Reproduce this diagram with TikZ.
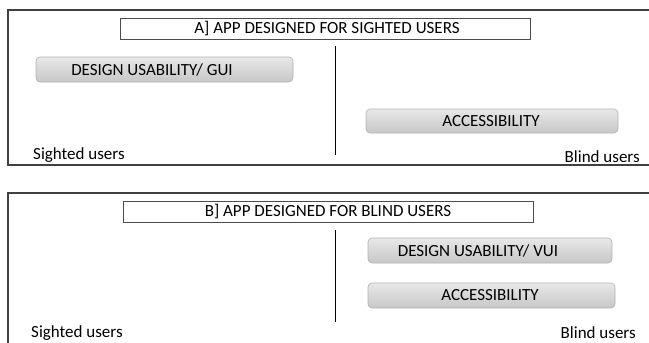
\documentclass[tikz,border=0pt]{standalone}
\usepackage{fontspec}
\setmainfont{Carlito}
\begin{document}
\begin{tikzpicture}[x=1pt,y=-1pt,
  frame/.style={draw=black!75,line width=1.1pt},
  titlebox/.style={draw=black!70,line width=0.8pt,fill=white},
  graybox/.style={draw=black!30,line width=0.6pt,rounded corners=4pt,
    top color=black!9,bottom color=black!22},
  lbl/.style={font=\fontsize{17}{19}\selectfont,text=black,inner sep=0pt},
  divider/.style={draw=black,line width=0.8pt}]
\useasboundingbox (0,0) rectangle (649,343);

% ---- Panel A ----
\draw[frame] (651,10) -- (8,10) -- (8,165) -- (651,165);
\draw[titlebox] (120,18) rectangle (530,39);
\node[lbl] (tA) at (327,29) {A] APP DESIGNED FOR SIGHTED USERS};
\draw[divider] (335,46) -- (335,155);
\draw[graybox] (36,57) rectangle (293,82);
\node[lbl] (guiA) at (152,69.5) {DESIGN USABILITY/ GUI};
\draw[graybox] (366,109) rectangle (618,133);
\node[lbl] (accA) at (491,121) {ACCESSIBILITY};
\node[lbl,anchor=west] (sA) at (33,155) {Sighted users};
\node[lbl,anchor=east] (bA) at (640,157) {Blind users};

% ---- Panel B ----
\draw[frame] (651,193) -- (8,193) -- (8,345);
\draw[titlebox] (123,201) rectangle (533,222);
\node[lbl] (tB) at (328,212) {B] APP DESIGNED FOR BLIND USERS};
\draw[divider] (335,230) -- (335,322);
\draw[graybox] (368,238) rectangle (612,263);
\node[lbl] (vuiB) at (478,250.5) {DESIGN USABILITY/ VUI};
\draw[graybox] (368,283) rectangle (615,308);
\node[lbl] (accB) at (490,295.5) {ACCESSIBILITY};
\node[lbl,anchor=west] (sB) at (31,333) {Sighted users};
\node[lbl,anchor=east] (bB) at (636,333) {Blind users};
\end{tikzpicture}
\end{document}
